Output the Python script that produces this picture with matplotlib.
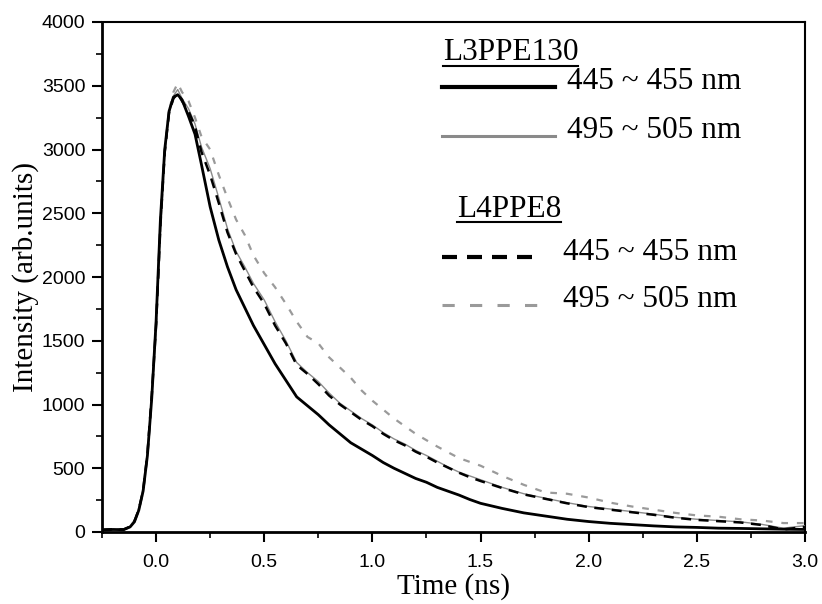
import matplotlib
matplotlib.use("Agg")
import matplotlib.pyplot as plt
from matplotlib.ticker import MultipleLocator

time_ns = [-0.25, -0.2, -0.15, -0.12, -0.1, -0.08, -0.06, -0.04, -0.02, 0.0,
           0.02, 0.04, 0.06, 0.08, 0.1, 0.12, 0.15, 0.18, 0.21, 0.25,
           0.29, 0.33, 0.37, 0.41, 0.45, 0.5, 0.55, 0.6, 0.65, 0.7,
           0.75, 0.8, 0.85, 0.9, 0.95, 1.0, 1.05, 1.1, 1.15, 1.2,
           1.25, 1.3, 1.35, 1.4, 1.45, 1.5, 1.6, 1.7, 1.8, 1.9,
           2.0, 2.1, 2.2, 2.3, 2.4, 2.5, 2.6, 2.7, 2.8, 2.9, 3.0]

l3_445 = [15, 20, 18, 40, 80, 170, 320, 600, 1050, 1650,
          2450, 3000, 3300, 3410, 3430, 3390, 3260, 3120, 2880, 2550,
          2290, 2080, 1900, 1760, 1620, 1470, 1320, 1190, 1060, 990,
          920, 840, 770, 700, 650, 600, 545, 500, 460, 420,
          390, 350, 320, 290, 255, 225, 185, 150, 125, 100,
          82, 68, 58, 48, 40, 36, 30, 28, 25, 22, 20]

l3_495 = [20, 15, 25, 45, 90, 180, 330, 620, 1080, 1600,
          2350, 2950, 3280, 3420, 3470, 3400, 3320, 3200, 3020, 2850,
          2620, 2380, 2200, 2080, 1950, 1820, 1650, 1500, 1330, 1250,
          1180, 1090, 1010, 950, 890, 840, 780, 730, 690, 640,
          600, 555, 510, 470, 440, 410, 350, 300, 265, 230,
          200, 180, 160, 140, 115, 100, 90, 80, 60, 30, 50]

l4_445 = [18, 22, 20, 42, 85, 175, 325, 610, 1070, 1620,
          2400, 2980, 3290, 3400, 3440, 3380, 3300, 3180, 2980, 2800,
          2580, 2350, 2180, 2050, 1920, 1790, 1620, 1480, 1310, 1240,
          1160, 1070, 1000, 940, 880, 830, 770, 720, 680, 630,
          590, 545, 505, 465, 430, 400, 345, 295, 260, 225,
          195, 175, 155, 135, 112, 95, 85, 75, 55, 20, 40]

l4_495 = [20, 18, 22, 44, 88, 178, 330, 615, 1075, 1610,
          2380, 2970, 3300, 3450, 3520, 3450, 3380, 3250, 3100, 3000,
          2800, 2620, 2450, 2330, 2170, 2030, 1920, 1790, 1650, 1530,
          1480, 1370, 1290, 1210, 1110, 1030, 960, 890, 830, 770,
          720, 670, 625, 580, 550, 520, 440, 370, 310, 300,
          270, 230, 200, 175, 150, 130, 120, 100, 90, 70, 70]

x_ticks = [0.0, 0.5, 1.0, 1.5, 2.0, 2.5, 3.0]
y_ticks = [0, 500, 1000, 1500, 2000, 2500, 3000, 3500, 4000]
range_label = "445 ~ 455 nm"
range_label2 = "495 ~ 505 nm"

serif = ["Liberation Serif", "DejaVu Serif"]
sans = ["Liberation Sans", "DejaVu Sans"]

fig = plt.figure(figsize=(8.22, 6.04), dpi=100)
ax = fig.add_axes([102/822, 72/604, 703/822, 510/604])

ax.plot(time_ns, l4_495, color="#9a9a9a", lw=1.6, ls=(0, (3, 4)), zorder=2)
ax.plot(time_ns, l3_495, color="#8a8a8a", lw=1.0, zorder=3)
ax.plot(time_ns, l4_445, color="black", lw=1.8, ls=(0, (4, 3)), zorder=4)
ax.plot(time_ns, l3_445, color="black", lw=2.0, zorder=5)

ax.set_xlim(-0.25, 3.0)
ax.set_ylim(0, 4000)
ax.set_xticks(x_ticks)
ax.set_yticks(y_ticks)
ax.xaxis.set_minor_locator(MultipleLocator(0.25))
ax.yaxis.set_minor_locator(MultipleLocator(250))
ax.tick_params(which="major", direction="out", length=7, width=1.5,
               top=False, right=False, labelsize=14)
ax.tick_params(axis="x", which="major", pad=9)
ax.tick_params(axis="y", which="major", pad=5)
ax.tick_params(which="minor", direction="out", length=4, width=1.2,
               top=False, right=False)
for lab in ax.get_xticklabels() + ax.get_yticklabels():
    lab.set_family(sans)
ax.xaxis.set_major_formatter(plt.FuncFormatter(lambda v, p: f"{v:.1f}"))
for s in ["left", "bottom"]:
    ax.spines[s].set_linewidth(2.0)
for s in ["top", "right"]:
    ax.spines[s].set_linewidth(1.5)

ax.set_xlabel("Time (ns)", family=serif, fontsize=21, labelpad=1)
ax.set_ylabel("Intensity (arb.units)", family=serif, fontsize=21, labelpad=2)

# legend-like annotation
tr = ax.transAxes
fs = 22.5
t1 = ax.text(0.485, 0.925, "L3PPE130", transform=tr, family=serif, fontsize=fs, va="baseline")
ax.plot([0.484, 0.644], [0.873, 0.873], transform=tr, color="black", lw=3)
ax.text(0.661, 0.869, range_label, transform=tr, family=serif, fontsize=fs, va="baseline")
ax.plot([0.484, 0.644], [0.777, 0.777], transform=tr, color="#8a8a8a", lw=2.2)
ax.text(0.661, 0.773, range_label2, transform=tr, family=serif, fontsize=fs, va="baseline")
t2 = ax.text(0.505, 0.618, "L4PPE8", transform=tr, family=serif, fontsize=fs, va="baseline")
ax.plot([0.484, 0.619], [0.539, 0.539], transform=tr, color="black", lw=3, ls=(0, (3.6, 2.4)))
ax.text(0.656, 0.533, range_label, transform=tr, family=serif, fontsize=fs, va="baseline")
ax.plot([0.484, 0.636], [0.445, 0.445], transform=tr, color="#9a9a9a", lw=2.2, ls=(0, (4, 5)))
ax.text(0.656, 0.441, range_label2, transform=tr, family=serif, fontsize=fs, va="baseline")

fig.canvas.draw()
r = fig.canvas.get_renderer()
inv = tr.inverted()
for t in (t1, t2):
    bb = t.get_window_extent(r)
    (x0, y0), (x1, y1) = inv.transform([(bb.x0, bb.y0), (bb.x1, bb.y1)])
    ax.plot([x0, x1], [y0 + 0.003, y0 + 0.003], transform=tr, color="black", lw=1.5)

fig.savefig("out.png", dpi=100)
